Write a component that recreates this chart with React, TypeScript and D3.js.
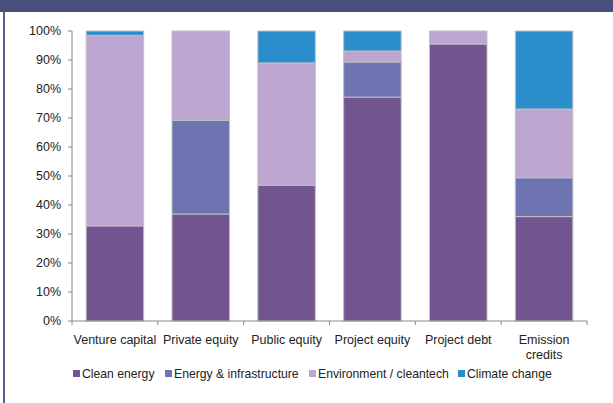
import React from "react";
import * as d3 from "d3";

const categories = ["Venture capital", "Private equity", "Public equity", "Project equity", "Project debt", "Emission credits"];
const seriesNames = ["Clean energy", "Energy & infrastructure", "Environment / cleantech", "Climate change"];
const cleanEnergy = [32.8, 36.9, 46.8, 77.2, 95.5, 36.0];
const energyInfra = [0, 32.3, 0, 12.1, 0, 13.4];
const environment = [65.7, 30.8, 42.2, 3.8, 4.5, 23.7];
const climateChange = [1.5, 0, 11.0, 6.9, 0, 26.9];
const yTicks = [0, 10, 20, 30, 40, 50, 60, 70, 80, 90, 100];
const colors = ["#72548f", "#6e74b1", "#bca6cf", "#2b8dcc"];

export default function App() {
  const W = 613, H = 403;
  const left = 72, right = 587, top = 31, bottom = 321;
  const x = d3.scaleBand<string>().domain(categories).range([left, right]).paddingInner(0.33).paddingOuter(0.165);
  const y = d3.scaleLinear().domain([0, 100]).range([bottom, top]);
  const rows = categories.map((c, i) => ({
    cat: c,
    "Clean energy": cleanEnergy[i],
    "Energy & infrastructure": energyInfra[i],
    "Environment / cleantech": environment[i],
    "Climate change": climateChange[i],
  }));
  const stack = d3.stack<any>().keys(seriesNames)(rows);
  const step = (right - left) / categories.length;
  const font = "'Liberation Sans', Arial, sans-serif";
  const legendX = [73, 165, 309, 458];

  return (
    <svg width={W} height={H} style={{ position: "absolute", left: 0, top: 0 }} fontFamily={font}>
      <rect x={0} y={0} width={W} height={H} fill="#fff" />
      <rect x={0} y={0} width={W} height={12} fill="#4a4e7c" />
      <rect x={3} y={12} width={2} height={H - 12} fill="#5a5e8a" />
      {stack.map((s, si) =>
        s.map((d, i) => {
          const h = y(d[0]) - y(d[1]);
          if (h <= 0) return null;
          return (
            <rect key={si + "-" + i} x={x(categories[i])!} y={y(d[1])} width={x.bandwidth()} height={h}
              fill={colors[si]} stroke="#c0c0c0" strokeWidth={1} />
          );
        })
      )}
      <line x1={left} x2={left} y1={top} y2={bottom} stroke="#888" strokeWidth={1} />
      <line x1={left} x2={right} y1={bottom} y2={bottom} stroke="#888" strokeWidth={1} />
      {yTicks.map((t) => (
        <g key={t}>
          <line x1={left - 4} x2={left} y1={y(t)} y2={y(t)} stroke="#888" />
          <text x={left - 11} y={y(t)} dy="0.35em" textAnchor="end" fontSize={12.5} fill="#222">{t}%</text>
        </g>
      ))}
      {d3.range(categories.length + 1).map((i) => (
        <line key={i} x1={left + i * step} x2={left + i * step} y1={bottom} y2={bottom + 4} stroke="#888" />
      ))}
      {categories.map((c) => {
        const cx = x(c)! + x.bandwidth() / 2;
        const lines = c === "Emission credits" ? ["Emission", "credits"] : [c];
        return (
          <text key={c} x={cx} y={344} textAnchor="middle" fontSize={12.5} fill="#222">
            {lines.map((l, k) => (
              <tspan key={k} x={cx} dy={k === 0 ? 0 : 14.5}>{l}</tspan>
            ))}
          </text>
        );
      })}
      {seriesNames.map((n, i) => (
        <g key={n}>
          <rect x={legendX[i]} y={370} width={7} height={7} fill={colors[i]} />
          <text x={legendX[i] + 9} y={377.5} fontSize={12.2} fill="#222">{n}</text>
        </g>
      ))}
    </svg>
  );
}
